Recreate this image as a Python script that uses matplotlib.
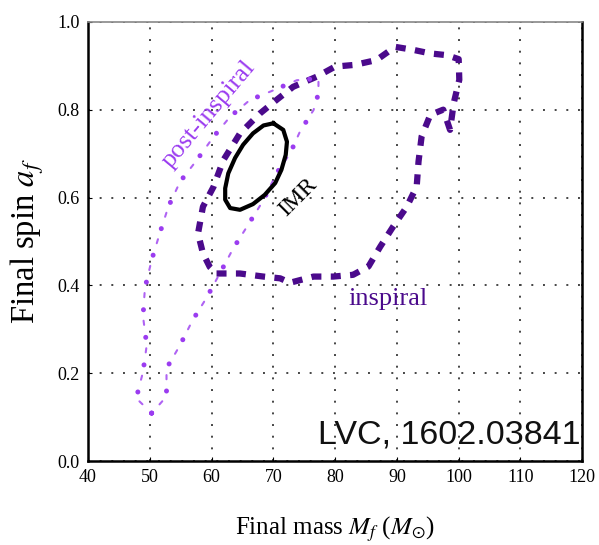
import numpy as np
import matplotlib
matplotlib.use("Agg")
import matplotlib.pyplot as plt

plt.rcParams['font.family'] = ['Liberation Serif', 'DejaVu Serif']
plt.rcParams['mathtext.fontset'] = 'stix'

# Inspiral contour (dashed)
insp_x = [60.8, 64.6, 68.4, 71.1, 72.7, 76.5, 79.7, 82.9, 85.4, 87.3, 89.4, 91.6, 93.2,
          93.5, 94.0, 95.4, 97.5, 98.6, 99.2, 100.1, 100.0, 98.1, 95.4, 92.7, 89.7,
          86.7, 83.2, 80.0, 77.0, 73.2, 70.5, 67.8, 64.6, 61.9, 60.3, 58.6, 57.8,
          58.6, 59.7, 60.8]
insp_y = [0.427, 0.427, 0.420, 0.416, 0.406, 0.420, 0.420, 0.424, 0.443, 0.488, 0.534,
          0.579, 0.625, 0.682, 0.739, 0.788, 0.800, 0.754, 0.815, 0.868, 0.915, 0.924,
          0.928, 0.936, 0.943, 0.913, 0.902, 0.898, 0.875, 0.852, 0.822, 0.791, 0.746,
          0.685, 0.624, 0.579, 0.518, 0.473, 0.442, 0.427]

# Post-inspiral contour (dash-dot)
post_x = [50.3, 52.7, 52.7, 54.9, 56.9, 59.2, 61.9, 63.5, 65.7, 68.4, 70.5, 72.7, 74.3,
          76.5, 77.3, 77.3, 73.8, 70.0, 66.2, 63.0, 60.3, 57.6, 54.9, 53.0, 51.6, 50.3,
          49.2, 48.9, 49.5, 48.9, 47.8, 50.3]
post_y = [0.109, 0.147, 0.211, 0.264, 0.320, 0.372, 0.442, 0.484, 0.533, 0.594, 0.655,
          0.700, 0.750, 0.799, 0.837, 0.871, 0.867, 0.844, 0.822, 0.784, 0.738, 0.685,
          0.636, 0.579, 0.518, 0.458, 0.393, 0.329, 0.264, 0.203, 0.143, 0.109]

# IMR contour (solid)
imr_x = [70.0, 71.6, 72.2, 72.0, 71.3, 70.3, 68.6, 66.7, 64.6, 63.0, 62.2, 62.2, 62.7,
         63.8, 65.1, 66.7, 68.4, 70.0]
imr_y = [0.769, 0.754, 0.727, 0.697, 0.663, 0.633, 0.606, 0.585, 0.572, 0.576, 0.595,
         0.621, 0.655, 0.690, 0.720, 0.746, 0.764, 0.769]

xticks = [40, 50, 60, 70, 80, 90, 100, 110, 120]
yticks = [0.0, 0.2, 0.4, 0.6, 0.8, 1.0]

c_insp = '#4b0a8c'
c_post = '#9b3cf0'

fig = plt.figure(figsize=(5.99, 5.45), dpi=100)
ax = fig.add_axes([0.147, 0.154, 0.825, 0.806])

ax.plot(insp_x, insp_y, color=c_insp, lw=4.5, ls=(0, (1.6, 1.5)), solid_joinstyle='round')
# post-inspiral: big dots with thin short dashes between them
ax.plot(post_x, post_y, color=c_post, lw=3.6, ls=(0, (0.01, 5.55)),
        dash_capstyle='round')
ax.plot(post_x, post_y, color=c_post, lw=1.5, ls=(7.67, (2.0, 11.33)),
        dash_capstyle='round', alpha=0.8)
ax.plot(imr_x, imr_y, color='black', lw=3.0, solid_joinstyle='round')

ax.set_xlim(40, 120)
ax.set_ylim(0, 1.0)
ax.set_xticks(xticks)
ax.set_yticks(yticks)
ax.set_xticklabels([str(t) for t in xticks])
ax.set_yticklabels([f"{t:.1f}" for t in yticks])
ax.tick_params(direction='in', length=3, labelsize=13, pad=6)
ax.grid(True, color='#444444', ls=(0, (1, 5)), lw=1.4)

for s in ['left', 'bottom', 'right']:
    ax.spines[s].set_linewidth(1.8)
    ax.spines[s].set_color('black')
ax.spines['top'].set_linewidth(1.2)
ax.spines['top'].set_color('#888888')

ax.set_xlabel(r'Final mass $M_f$ ($M_{\odot}$)', fontsize=18, labelpad=20)
ax.set_ylabel(r'Final spin $a_f$', fontsize=23.5, labelpad=8)

ax.text(59.5, 0.79, 'post-inspiral', color=c_post, fontsize=19, rotation=50,
        ha='center', va='center', rotation_mode='anchor')
ax.text(74.0, 0.60, 'IMR', color='black', fontsize=17, rotation=45,
        ha='center', va='center', rotation_mode='anchor')
ax.text(88.6, 0.37, 'inspiral', color=c_insp, fontsize=19, ha='center', va='center')
ax.text(119.8, 0.04, 'LVC, 1602.03841', fontsize=24.5, family='Liberation Sans',
        ha='right', va='baseline', color='#111111')

fig.savefig('out.png', dpi=100)
